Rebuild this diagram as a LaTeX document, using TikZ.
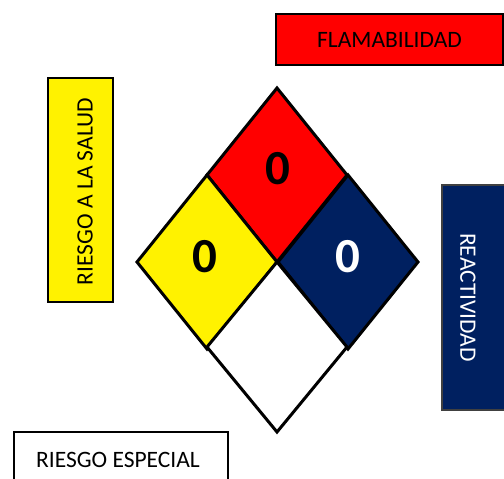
\documentclass[tikz,border=0pt]{standalone}
\usepackage{fontspec}
\setmainfont{Carlito}
\definecolor{navy}{HTML}{002060}
\begin{document}
\begin{tikzpicture}[x=1pt,y=-1pt,
  dia/.style={draw=black,line width=3pt,line join=miter},
  lbl/.style={draw=black,line width=1.4pt},
  num/.style={inner sep=0pt,font=\fontsize{49}{49}\selectfont\bfseries},
  txt/.style={inner sep=0pt,font=\fontsize{23.5}{24}\selectfont}]
\useasboundingbox (0,0) rectangle (504,479);
\begin{scope}
\clip (0,0) rectangle (504,479);
% label boxes
\draw[lbl, fill=red] (276,14) rectangle (503,65);
\draw[lbl, fill=yellow] (48,78) rectangle (113,302);
\draw[lbl, draw=black!75, fill=navy] (442,185) rectangle (508,410);
\draw[lbl, fill=white] (14,432) rectangle (228,485);
% diamonds
\draw[dia, fill=red]    (277,88) -- (347,175) -- (277,262) -- (207,175) -- cycle;
\draw[dia, fill=yellow] (207,175) -- (277,262) -- (207,349) -- (137,262) -- cycle;
\draw[dia, fill=navy]   (348,175) -- (418,262) -- (348,349) -- (278,262) -- cycle;
\draw[dia, fill=white]  (277,262) -- (347,347) -- (277,432) -- (207,347) -- cycle;
% texts
\node[txt] (flam) at (389.5,40) {FLAMABILIDAD};
\node[txt, rotate=90] (salud) at (85,191.5) {RIESGO A LA SALUD};
\node[txt, rotate=-90, text=white] (react) at (468,297.5) {REACTIVIDAD};
\node[txt] (esp) at (118,460) {RIESGO ESPECIAL};
\node[num] (nred) at (277.5,168.3) {0};
\node[num] (nyel) at (204.7,256.3) {0};
\node[num, text=white] (nblu) at (348,257) {0};
\end{scope}
\end{tikzpicture}
\end{document}
